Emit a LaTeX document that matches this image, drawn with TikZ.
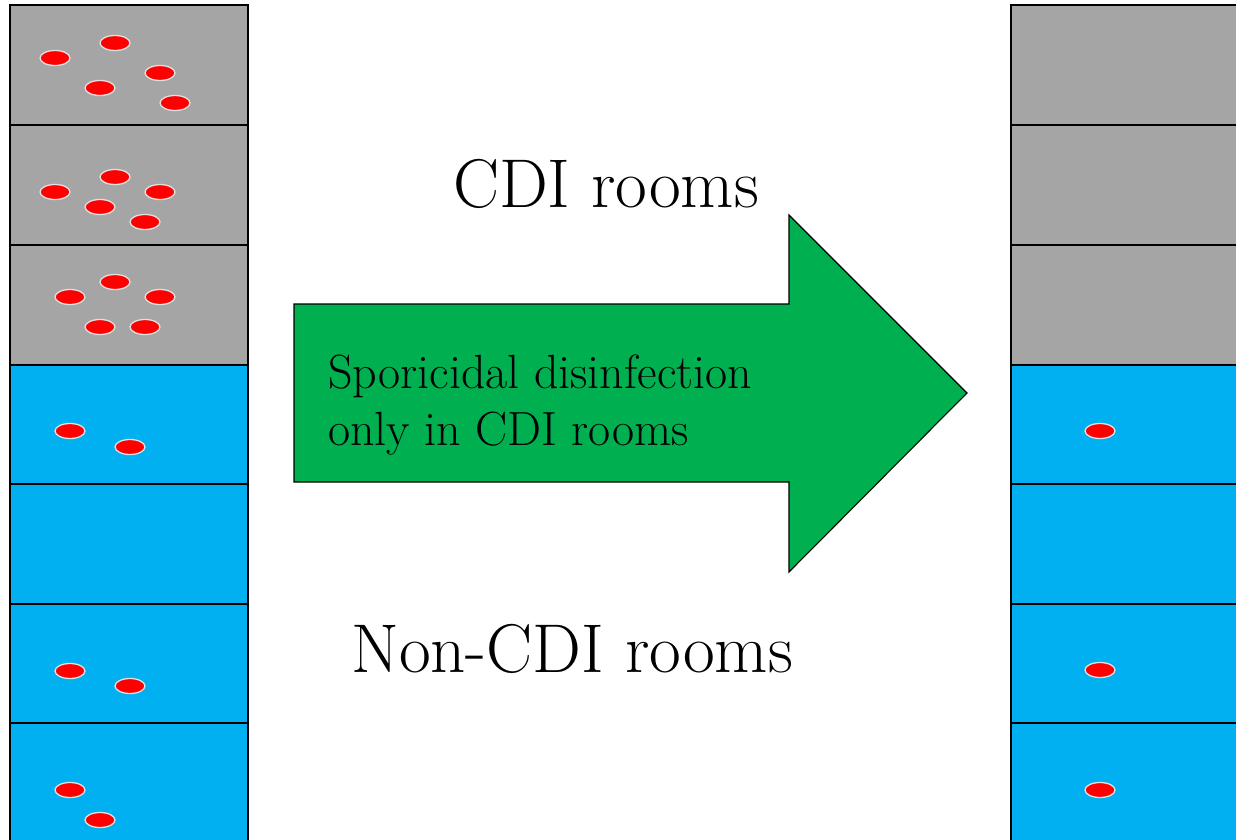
\documentclass[tikz,border=0pt]{standalone}
\usetikzlibrary{shapes.geometric}
\definecolor{roomgray}{RGB}{165,165,165}
\definecolor{roomblue}{RGB}{0,176,240}
\definecolor{arrowgreen}{RGB}{0,176,80}
\definecolor{sporeedge}{RGB}{225,225,225}
\begin{document}
\begin{tikzpicture}[x=1pt,y=-1pt,
  room/.style={draw=black,line width=1.6pt},
  cdi/.style={room,fill=roomgray},
  noncdi/.style={room,fill=roomblue},
  spore/.style={ellipse,fill=red,draw=sporeedge,line width=1.3pt,minimum width=30pt,minimum height=15pt,inner sep=0pt},
  bigtext/.style={font=\fontsize{69}{76}\selectfont,inner sep=0pt},
  arrowtext/.style={font=\fontsize{48}{57}\selectfont,inner sep=0pt,anchor=base west}]
\useasboundingbox (0,0) rectangle (1236,840);
\clip (0,0) rectangle (1236,840);
% left column
\draw[cdi] (10,5) rectangle (248,125);
\draw[cdi] (10,125) rectangle (248,245);
\draw[cdi] (10,245) rectangle (248,365);
\draw[noncdi] (10,365) rectangle (248,484);
\draw[noncdi] (10,484) rectangle (248,604);
\draw[noncdi] (10,604) rectangle (248,723);
\draw[noncdi] (10,723) rectangle (248,860);
% right column
\draw[cdi] (1011,5) rectangle (1260,125);
\draw[cdi] (1011,125) rectangle (1260,245);
\draw[cdi] (1011,245) rectangle (1260,365);
\draw[noncdi] (1011,365) rectangle (1260,484);
\draw[noncdi] (1011,484) rectangle (1260,604);
\draw[noncdi] (1011,604) rectangle (1260,723);
\draw[noncdi] (1011,723) rectangle (1260,860);
% spores left
\node[spore] (a1) at (55,58) {};
\node[spore] (a2) at (115,43) {};
\node[spore] (a3) at (160,73) {};
\node[spore] (a4) at (100,88) {};
\node[spore] (a5) at (175,103) {};
\node[spore] (b1) at (55,192) {};
\node[spore] (b2) at (115,177) {};
\node[spore] (b3) at (160,192) {};
\node[spore] (b4) at (100,207) {};
\node[spore] (b5) at (145,222) {};
\node[spore] (c1) at (70,297) {};
\node[spore] (c2) at (115,282) {};
\node[spore] (c3) at (160,297) {};
\node[spore] (c4) at (100,327) {};
\node[spore] (c5) at (145,327) {};
\node[spore] (d1) at (70,431) {};
\node[spore] (d2) at (130,447) {};
\node[spore] (f1) at (70,671) {};
\node[spore] (f2) at (130,686) {};
\node[spore] (g1) at (70,790) {};
\node[spore] (g2) at (100,820) {};
% spores right
\node[spore] (r1) at (1100,431) {};
\node[spore] (r2) at (1100,670) {};
\node[spore] (r3) at (1100,790) {};
% arrow
\draw[fill=arrowgreen,draw=black,line width=1.1pt] (294,304) -- (789,304) -- (789,215) -- (967,393) -- (789,572) -- (789,482) -- (294,482) -- cycle;
\node[arrowtext] (t1) at (328,388) {Sporicidal disinfection};
\node[arrowtext] (t2) at (328,445) {only in CDI rooms};
% labels
\node[bigtext,anchor=base] (cdi) at (606,207) {CDI rooms};
\node[bigtext,anchor=base] (noncdi) at (572,672) {Non-CDI rooms};
\end{tikzpicture}
\end{document}
